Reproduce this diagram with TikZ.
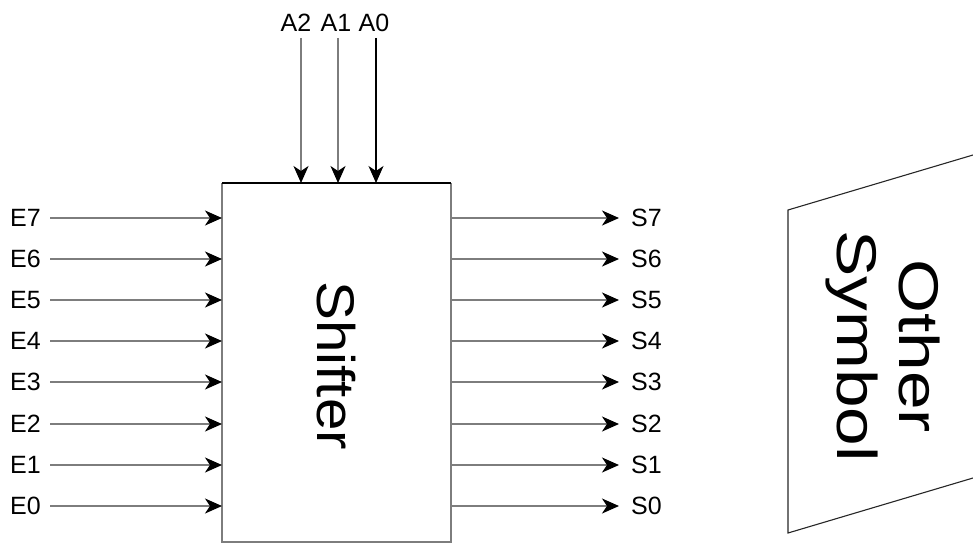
\documentclass[tikz,border=0pt]{standalone}
\usepackage{fontspec}
\setmainfont{Liberation Sans}
\usetikzlibrary{arrows.meta}
\definecolor{wiregray}{RGB}{125,125,125}
\begin{document}
\begin{tikzpicture}[x=1pt,y=-1pt,
  lbl/.style={font=\fontsize{25}{30}\selectfont, inner sep=0pt},
  inlbl/.style={lbl, anchor=east, inner xsep=9pt},
  outlbl/.style={lbl, anchor=west, inner xsep=12pt},
  tip/.tip={Stealth[length=17pt,width=15pt,inset=5pt,color=black]},
  wire/.style={draw=wiregray, line width=1.9pt, -tip},
  wireblack/.style={draw=black, line width=1.2pt, -tip},
  boxst/.style={draw=none, inner sep=0pt, minimum width=229pt, minimum height=359pt},
  bigtext/.style={rotate=-90, inner sep=0pt, align=center},
]
\useasboundingbox (0,0) rectangle (973,543);

% main block
\node[boxst, anchor=north west] (box) at (222,183) {};
\draw[wiregray, line width=1.9pt] (box.north west) -- (box.south west) -- (box.south east) -- (box.north east);
\draw[black, line width=1.2pt] (box.north west) -- (box.north east);
\node[bigtext, xscale=1.1, font=\fontsize{53}{60}\selectfont] (shiftlbl) at ([yshift=-3pt]box.center) {Shifter};

% inputs
\foreach \i/\y in {7/218,6/259,5/300,4/341,3/382,2/424,1/465,0/506}{
  \node[inlbl] (e\i) at (50,\y) {E\i};
  \draw[wire] (e\i.east) -- (e\i.east -| box.west);
}

% outputs
\foreach \i/\y in {7/218,6/259,5/300,4/341,3/382,2/424,1/465,0/506}{
  \node[outlbl] (s\i) at (619,\y) {S\i};
  \draw[wire] (s\i.west -| box.east) -- (s\i.west);
}

% select inputs
\node[lbl] (a2) at (296,23) {A2};
\node[lbl] (a1) at (336,23) {A1};
\node[lbl] (a0) at (374,23) {A0};
\coordinate (a2top) at (301,38);
\coordinate (a1top) at (338,38);
\coordinate (a0top) at (376,38);
\draw[wire] (a2top) -- (a2top |- box.north);
\draw[wire] (a1top) -- (a1top |- box.north);
\draw[wireblack] (a0top) -- (a0top |- box.north);

% other symbol
\begin{scope}
  \clip (0,0) rectangle (973,543);
  \draw[line width=1.1pt, draw=black!85] (788,210) -- (1010,144) -- (1010,467) -- (788,533) -- cycle;
\end{scope}
\node[bigtext, xscale=1.24, font=\fontsize{56}{62}\selectfont] (other) at (883,346) {Other\\Symbol};
\end{tikzpicture}
\end{document}
